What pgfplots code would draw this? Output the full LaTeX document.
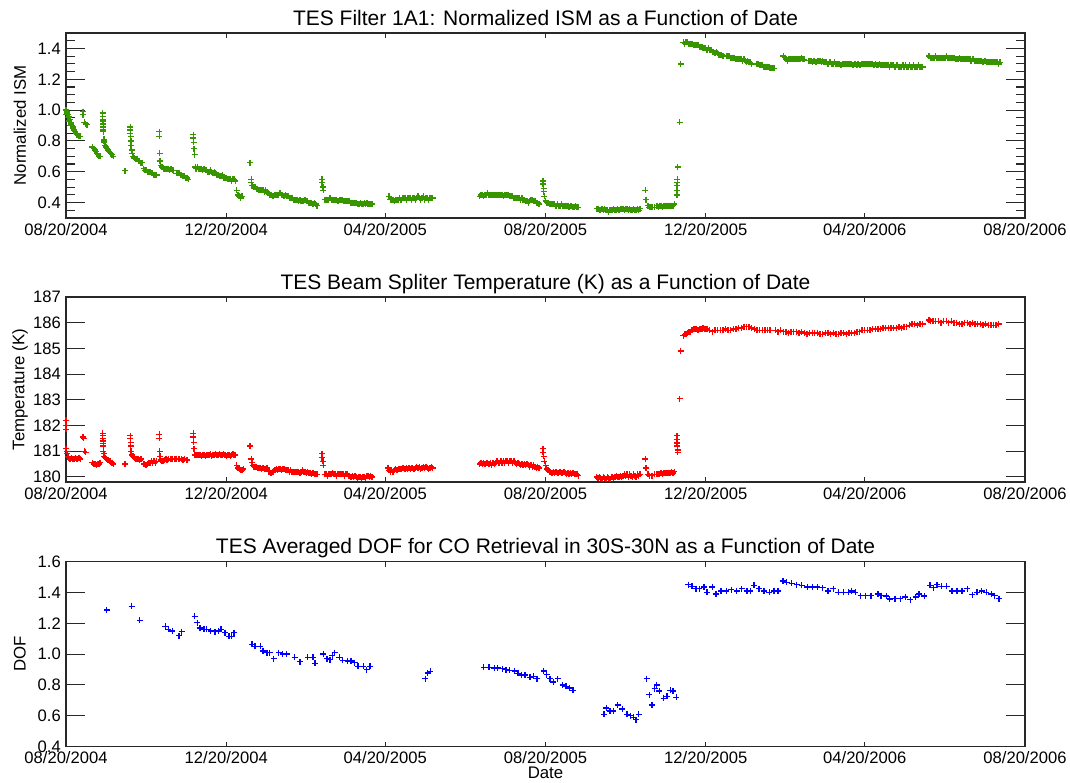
\documentclass[border=0pt]{standalone}
\usepackage{pgfplots}
\pgfplotsset{compat=1.18}
\usepackage{fontspec}
\setmainfont{Liberation Sans}
\definecolor{ismgreen}{RGB}{55,150,0}
\definecolor{tred}{RGB}{255,0,0}
\definecolor{dblue}{RGB}{0,0,255}
\definecolor{axisgray}{RGB}{40,40,40}
\pgfplotsset{
 tesaxis/.style={
  scale only axis, width=959pt, height=185pt,
  xmin=0, xmax=730,
  xtick={0,122,243,365,487,608,730},
  xticklabels={08/20/2004,12/20/2004,04/20/2005,08/20/2005,12/20/2005,04/20/2006,08/20/2006},
  tick align=inside,
  xtick style={/pgfplots/major tick length=5pt},
  ytick style={/pgfplots/major tick length=19pt,/pgfplots/minor tick length=9pt},
  axis line style={line width=1.2pt, color=axisgray},
  every tick/.style={line width=1.1pt, color=axisgray},
  tick label style={font=\fontsize{16.6}{18}\selectfont},
  xticklabel style={anchor=north, inner sep=0pt, yshift=-5pt},
  yticklabel style={anchor=east, inner sep=0pt, xshift=-5pt},
  title style={font=\fontsize{21}{24}\selectfont, at={(0.5,1)}, anchor=base, yshift=2pt},
  ylabel style={font=\fontsize{16.8}{18}\selectfont, at={(axis description cs:-0.048,0.5)}, anchor=center},
  /pgf/number format/assume math mode=true,
  clip=false,
 },
 pts/.style={only marks, mark=+, mark size=3pt, line width=1.35pt, color=#1},
}
\begin{document}
\begin{tikzpicture}
\path[use as bounding box] (0pt,0pt) rectangle (1070pt,-782pt);
% ---------------- Panel 1 ----------------
\begin{axis}[tesaxis, at={(66pt,-218pt)}, anchor=south west,
  title={TES Filter 1A1: Normalized ISM as a Function of Date},
  ylabel={Normalized ISM},
  ymin=0.3, ymax=1.5, ytick={0.4,0.6,0.8,1.0,1.2,1.4},
  minor ytick={0.3,0.35,0.45,0.5,0.55,0.65,0.7,0.75,0.85,0.9,0.95,1.05,1.1,1.15,1.25,1.3,1.35,1.45,1.5},
  yticklabel style={/pgf/number format/.cd, fixed, fixed zerofill, precision=1}]
\addplot[pts=ismgreen] coordinates {
(0,1.00)(0.5,0.99)(1,0.98)(1.5,0.97)(2,0.96)(2.5,0.95)(3,0.94)(3.5,0.92)(4,0.91)(4.5,0.90)(5,0.89)(5.5,0.88)(6,0.87)(7,0.86)(7.5,0.85)(8,0.84)(9,0.84)(10,0.83)(11,0.83)(0.3,0.97)(1.2,0.95)(2.2,0.93)(3.2,0.90)
(13,0.99)(13,0.97)(14,0.92)(15,0.91)(16,0.905)
(20,0.76)(21,0.75)(22,0.74)(23,0.73)(23.5,0.72)(24,0.71)(25,0.70)(26,0.70)
(28,0.98)(28,0.96)(28,0.94)(28,0.93)(28.3,0.91)(28.3,0.89)(28.5,0.87)(28.5,0.86)(29,0.81)(29,0.80)(29.3,0.79)(30,0.77)(30.5,0.76)(31,0.75)(32,0.74)(33,0.73)(34,0.72)(35,0.71)(36,0.70)
(45,0.607)
(49,0.89)(49,0.87)(49,0.85)(49.3,0.83)(49.5,0.80)(49.5,0.77)(50,0.74)(50.5,0.72)(51,0.70)(52,0.69)(53,0.68)(54,0.68)(55,0.67)(56,0.67)(57,0.66)(58,0.66)
(59,0.62)(60,0.61)(61,0.61)(62,0.60)(63,0.60)(64,0.60)(65,0.59)(66,0.59)(67,0.58)(68,0.58)(69,0.58)
(71,0.86)(71,0.83)(71.3,0.72)(71.5,0.67)
(72,0.64)(73,0.63)(74,0.62)(75,0.62)(76,0.62)(77,0.62)(78,0.62)(79,0.61)(80,0.62)(81,0.61)(82,0.61)
(84,0.59)(85,0.59)(86,0.59)(87,0.58)(88,0.58)(89,0.57)(90,0.57)(91,0.56)(92,0.56)(93,0.55)
(97,0.84)(97,0.82)(97.3,0.79)(97.5,0.75)(98,0.71)(98.5,0.63)
(99,0.62)(100,0.63)(101,0.62)(102,0.62)(103,0.62)(104,0.61)(105,0.62)(106,0.61)(107,0.61)(108,0.60)(109,0.60)(110,0.61)(111,0.60)(112,0.59)(113,0.60)(114,0.59)(115,0.58)(116,0.58)(117,0.57)(118,0.57)(119,0.58)(120,0.56)(121,0.56)(122,0.56)(123,0.55)(124,0.55)(125,0.55)(126,0.54)(127,0.55)(128,0.55)(129,0.54)
(130,0.48)(131,0.45)(132,0.44)(133,0.43)(134,0.44)
(140,0.66)
(141,0.55)(141,0.53)(141.5,0.51)
(142,0.51)(143,0.50)(144,0.50)(145,0.49)(146,0.49)(147,0.48)(148,0.48)(149,0.48)(150,0.48)(151,0.47)(152,0.48)(153,0.47)(154,0.46)(155,0.45)(156,0.45)(157,0.44)(158,0.44)(159,0.45)(160,0.45)(161,0.45)(162,0.45)(163,0.46)(164,0.45)(165,0.45)(166,0.44)(167,0.45)(168,0.44)(169,0.44)(170,0.43)(171,0.43)(172,0.43)(173,0.42)(174,0.42)(175,0.42)(176,0.42)(177,0.41)(178,0.42)(179,0.41)(180,0.41)(181,0.41)(182,0.42)(183,0.41)(184,0.41)(185,0.40)(186,0.40)(187,0.40)(188,0.39)(189,0.40)(190,0.39)(191,0.38)
(195,0.55)(195,0.53)(195.5,0.50)(196,0.48)
(197,0.42)(198,0.42)(199,0.42)(200,0.42)(201,0.43)(202,0.42)(203,0.42)(204,0.42)(205,0.42)(206,0.42)(207,0.41)(208,0.42)(209,0.42)(210,0.42)(211,0.41)(212,0.41)(213,0.41)(214,0.41)(215,0.41)(216,0.41)(217,0.40)(218,0.40)(219,0.40)(220,0.40)(221,0.40)(222,0.39)(223,0.39)(224,0.40)(225,0.39)(226,0.39)(227,0.40)(228,0.39)(229,0.40)(230,0.39)(231,0.39)(232,0.39)(233,0.39)
(246,0.44)(247,0.42)(248,0.42)(249,0.42)(250,0.41)(251,0.42)(252,0.42)(253,0.42)(254,0.43)(255,0.42)(256,0.43)(257,0.43)(258,0.43)(259,0.42)(260,0.43)(261,0.43)(262,0.43)(263,0.42)(264,0.43)(265,0.43)(266,0.42)(267,0.43)(268,0.44)(269,0.43)(270,0.42)(271,0.43)(272,0.44)(273,0.42)(274,0.43)(275,0.43)(276,0.42)(277,0.43)(278,0.43)(279,0.43)
(315,0.44)(316,0.45)(317,0.45)(318,0.44)(319,0.45)(320,0.45)(321,0.46)(322,0.45)(323,0.45)(324,0.45)(325,0.45)(326,0.45)(327,0.45)(328,0.45)(329,0.45)(330,0.45)(331,0.45)(332,0.45)(333,0.44)(334,0.45)(335,0.45)(336,0.45)(337,0.45)(338,0.44)(339,0.44)(340,0.44)(341,0.43)(342,0.43)(343,0.43)(344,0.43)(345,0.43)(346,0.42)(347,0.43)(348,0.42)(349,0.42)(350,0.41)(351,0.41)(352,0.40)(353,0.41)(354,0.42)(355,0.42)(356,0.41)(357,0.41)(358,0.40)(359,0.40)(360,0.39)
(363,0.54)(363,0.52)(363.5,0.49)(363.5,0.47)(364,0.44)
(365,0.41)(366,0.40)(367,0.40)(368,0.39)(369,0.39)(370,0.39)(371,0.39)(372,0.39)(373,0.38)(374,0.39)(375,0.38)(376,0.38)(377,0.39)(378,0.38)(379,0.38)(380,0.38)(381,0.38)(382,0.38)(383,0.37)(384,0.38)(385,0.38)(386,0.37)(387,0.37)(388,0.38)(389,0.37)(390,0.37)
(404,0.36)(405,0.36)(406,0.35)(407,0.35)(408,0.36)(409,0.35)(410,0.36)(411,0.35)(412,0.35)(413,0.34)(414,0.35)(415,0.35)(416,0.35)(417,0.36)(418,0.35)(419,0.35)(420,0.36)(421,0.35)(422,0.36)(423,0.36)(424,0.36)(425,0.35)(426,0.36)(427,0.36)(428,0.35)(429,0.36)(430,0.35)(431,0.35)(432,0.36)(433,0.35)(434,0.35)(435,0.36)(436,0.35)(437,0.36)
(441,0.48)(441.5,0.42)
(443,0.38)(444,0.37)(445,0.37)(446,0.37)(448,0.37)(450,0.38)(451,0.37)(452,0.38)(453,0.38)(454,0.37)(455,0.38)(456,0.38)(457,0.38)(458,0.38)(459,0.38)(460,0.38)(461,0.38)(462,0.38)(463,0.39)
(465,0.45)(465,0.48)(465,0.51)(465.3,0.53)(465.3,0.55)(465.5,0.63)(467,0.92)(468,1.30)
(470,1.44)(471,1.43)(472,1.44)(473,1.44)(474,1.43)(475,1.43)(476,1.43)(477,1.43)(478,1.42)(479,1.42)(480,1.42)(481,1.42)(482,1.41)(483,1.41)(484,1.41)(485,1.40)(486,1.40)(487,1.40)(488,1.39)(489,1.40)(490,1.39)(491,1.39)(492,1.38)(493,1.38)(494,1.37)(495,1.38)(496,1.37)(497,1.36)(498,1.36)(499,1.36)(500,1.35)
(503,1.35)(504,1.35)(505,1.35)(506,1.34)(507,1.34)(508,1.34)(509,1.34)(510,1.33)(511,1.33)(512,1.33)(513,1.33)(514,1.33)(515,1.32)(516,1.33)(517,1.32)(518,1.31)(519,1.32)(520,1.31)(521,1.31)(522,1.30)
(526,1.30)(527,1.30)(528,1.29)(529,1.29)(530,1.29)(531,1.28)(532,1.28)(533,1.28)(534,1.28)(535,1.28)(536,1.27)(537,1.27)(538,1.27)(539,1.27)
(546,1.35)(547,1.34)(548,1.33)(549,1.32)(550,1.33)(551,1.33)(552,1.33)(553,1.33)(554,1.33)(555,1.33)(556,1.33)(557,1.33)(558,1.33)(559,1.33)(560,1.34)(561,1.33)(562,1.33)
(565,1.32)(566,1.32)(567,1.32)(568,1.31)(569,1.32)(570,1.32)(571,1.31)(572,1.32)(573,1.32)(574,1.32)(575,1.31)(576,1.32)(577,1.31)(578,1.31)(579,1.31)(580,1.30)(581,1.31)(582,1.31)(583,1.30)(584,1.30)(585,1.31)(586,1.30)(587,1.30)(588,1.30)(589,1.30)(590,1.29)(591,1.30)(592,1.30)(593,1.30)(594,1.30)(595,1.30)(596,1.30)(597,1.30)(598,1.30)(599,1.29)(600,1.30)(601,1.30)(602,1.29)(603,1.30)(604,1.29)(605,1.29)(606,1.30)(607,1.30)(608,1.30)(609,1.30)(610,1.30)(611,1.30)(612,1.30)(613,1.30)(614,1.30)(615,1.29)(616,1.30)(617,1.29)(618,1.29)(619,1.30)(620,1.29)(621,1.29)(622,1.29)(623,1.29)(624,1.29)(625,1.29)(626,1.29)(627,1.28)(628,1.29)(629,1.29)(630,1.29)(631,1.28)(632,1.29)(633,1.29)(634,1.28)(635,1.28)(636,1.28)(637,1.29)(638,1.28)(639,1.29)(640,1.28)(641,1.28)(642,1.29)(643,1.28)(644,1.28)(645,1.29)(646,1.28)(647,1.28)(648,1.28)(649,1.29)(650,1.28)(651,1.28)(652,1.28)
(657,1.35)(658,1.34)(659,1.34)(660,1.34)(661,1.34)(662,1.35)(663,1.34)(664,1.34)(665,1.34)(666,1.34)(667,1.34)(668,1.34)(669,1.34)(670,1.35)(671,1.34)(672,1.34)(673,1.34)(674,1.34)(675,1.34)(676,1.34)(677,1.33)(678,1.33)(679,1.33)(680,1.34)(681,1.33)(682,1.33)(683,1.33)(684,1.33)(685,1.33)(686,1.33)(687,1.33)(688,1.33)(689,1.32)(690,1.33)(691,1.33)(692,1.32)(693,1.32)(694,1.32)(695,1.32)(696,1.32)(697,1.32)(698,1.31)(699,1.32)(700,1.32)(701,1.31)(702,1.31)(703,1.31)(704,1.31)(705,1.31)(706,1.31)(707,1.31)(708,1.31)(709,1.31)(710,1.30)(711,1.31)
};
\end{axis}
% ---------------- Panel 2 ----------------
\begin{axis}[tesaxis, at={(66pt,-482pt)}, anchor=south west,
  title={TES Beam Spliter Temperature (K) as a Function of Date},
  ylabel={Temperature (K)},
  ymin=179.8, ymax=187, ytick={180,181,182,183,184,185,186,187}]
\addplot[pts=tred] coordinates {
(0,182.2)(0,182.0)(0,181.85)(0,181.1)(0.5,181.0)(1,180.9)(1.5,180.8)(2,180.75)(3,180.7)(4,180.75)(5,180.7)(6,180.7)(7,180.75)(8,180.7)(9,180.7)(10,180.75)(11,180.7)
(13,181.55)(13.5,181.5)(14,181.0)(15,180.95)
(20,180.55)(21,180.5)(22,180.5)(23,180.45)(24,180.5)(25,180.5)(26,180.55)
(28,181.7)(28,181.6)(28,181.5)(28.3,181.4)(28.3,181.3)(28.5,181.2)(28.5,181.0)(29,180.9)(29,180.8)(30,180.75)(31,180.7)(32,180.65)(33,180.6)(34,180.6)(35,180.55)(36,180.5)
(45,180.5)
(49,181.6)(49,181.5)(49.3,181.35)(49.3,181.2)(49.5,181.0)(50,180.85)(51,180.8)(52,180.75)(53,180.7)(54,180.7)(55,180.7)(56,180.65)(57,180.7)
(59,180.5)(60,180.5)(61,180.45)(62,180.5)(63,180.55)(64,180.55)(65,180.6)(66,180.55)(67,180.6)(68,180.55)(69,180.6)
(71,181.65)(71,181.5)(71.3,181.0)(71.5,180.8)(72,180.65)(73,180.6)(74,180.6)(75,180.65)(76,180.7)(77,180.65)(78,180.7)(80,180.7)(81,180.7)(83,180.7)(84,180.7)(86,180.7)(88,180.7)(89,180.65)(90,180.7)(92,180.65)
(97,181.7)(97,181.55)(97.3,181.35)(97.5,181.1)(98,180.85)(99,180.85)(100,180.85)(101,180.85)(102,180.85)(103,180.8)(104,180.85)(105,180.85)(106,180.8)(107,180.85)(108,180.85)(109,180.85)(110,180.9)(111,180.8)(112,180.85)(113,180.85)(114,180.9)(115,180.85)(116,180.85)(117,180.9)(118,180.85)(119,180.85)(120,180.9)(121,180.85)(122,180.8)(123,180.85)(124,180.85)(125,180.8)(126,180.85)(127,180.9)(128,180.85)(129,180.85)
(130,180.45)(131,180.35)(132,180.3)(133,180.25)(134,180.25)(135,180.3)
(140,181.2)
(141,180.7)(141.5,180.55)(142,180.45)(143,180.4)(144,180.4)(145,180.4)(146,180.35)(147,180.35)(148,180.35)(149,180.3)(150,180.35)(151,180.3)(152,180.3)(153,180.35)(154,180.2)(155,180.2)(156,180.15)(157,180.2)(158,180.2)(159,180.25)(160,180.3)(161,180.25)(162,180.3)(163,180.3)(164,180.25)(165,180.3)(166,180.3)(167,180.25)(168,180.25)(169,180.25)(170,180.2)(171,180.25)(172,180.2)(173,180.2)(174,180.2)(175,180.2)(176,180.2)(177,180.2)(178,180.15)(179,180.2)(180,180.25)(181,180.2)(182,180.2)(183,180.15)(184,180.2)(185,180.15)(186,180.15)(187,180.1)(188,180.15)(189,180.1)(190,180.1)(191,180.1)
(195,180.9)(195,180.75)(195.5,180.6)(196,180.45)
(197,180.1)(198,180.1)(199,180.05)(200,180.1)(201,180.1)(202,180.1)(203,180.15)(204,180.1)(205,180.1)(206,180.05)(207,180.1)(208,180.1)(209,180.1)(210,180.1)(211,180.1)(212,180.05)(213,180.1)(214,180.1)(215,180.05)(216,180.05)(217,180.0)(218,180.05)(219,180.0)(220,180.05)(221,180.0)(222,179.95)(223,180.0)(224,180.0)(225,179.95)(226,180.0)(227,180.0)(228,179.95)(229,180.05)(230,180.05)(231,180.0)(232,180.05)(233,180.0)
(245,180.35)(246,180.25)(247,180.2)(248,180.25)(249,180.2)(250,180.25)(251,180.3)(252,180.25)(253,180.3)(254,180.3)(255,180.3)(256,180.35)(257,180.35)(258,180.3)(259,180.35)(260,180.3)(261,180.35)(262,180.3)(263,180.35)(264,180.35)(265,180.3)(266,180.35)(267,180.4)(268,180.35)(269,180.4)(270,180.3)(271,180.35)(272,180.4)(273,180.35)(274,180.4)(275,180.35)(276,180.3)(277,180.35)(278,180.4)(279,180.35)
(315,180.5)(316,180.55)(317,180.5)(318,180.55)(319,180.5)(320,180.55)(321,180.55)(322,180.5)(323,180.55)(324,180.45)(325,180.55)(326,180.5)(327,180.55)(328,180.6)(329,180.55)(330,180.55)(331,180.6)(332,180.55)(333,180.6)(334,180.55)(335,180.6)(336,180.6)(337,180.55)(338,180.6)(339,180.6)(340,180.55)(341,180.6)(342,180.55)(343,180.5)(344,180.55)(345,180.5)(346,180.45)(347,180.5)(348,180.45)(349,180.5)(350,180.45)(351,180.5)(352,180.45)(353,180.4)(354,180.45)(355,180.4)(356,180.45)(357,180.4)(358,180.35)(359,180.4)(360,180.35)
(363,181.1)(363,180.95)(363.5,180.8)(364,180.6)(365,180.45)
(366,180.3)(367,180.25)(368,180.2)(369,180.2)(370,180.15)(371,180.2)(372,180.15)(373,180.2)(374,180.15)(375,180.15)(376,180.2)(377,180.15)(378,180.15)(379,180.2)(380,180.15)(381,180.1)(382,180.15)(383,180.1)(384,180.15)(385,180.1)(386,180.15)(387,180.1)(388,180.1)(389,180.1)(390,180.05)
(404,180.0)(405,179.95)(406,180.0)(407,179.95)(408,179.9)(409,180.0)(410,179.95)(411,179.9)(412,180.0)(413,179.95)(414,179.9)(415,180.0)(416,180.0)(417,179.95)(418,180.0)(419,180.05)(420,180.0)(421,180.0)(422,180.05)(423,180.0)(424,180.05)(425,180.1)(426,180.05)(427,180.1)(428,180.0)(429,180.1)(430,180.05)(431,180.0)(432,180.1)(433,180.05)(434,180.0)(435,180.1)(436,180.05)(437,180.1)
(441,180.7)(441.5,180.35)
(443,180.1)(444,180.05)(446,180.05)(448,180.1)(450,180.1)(451,180.1)(452,180.1)(453,180.15)(454,180.1)(455,180.15)(456,180.15)(457,180.15)(458,180.15)(459,180.15)(460,180.15)(461,180.2)(462,180.15)(463,180.2)
(465,181.6)(465,181.45)(465,181.35)(465.3,181.3)(465.3,181.2)(465.5,181.05)(465.5,180.95)(467,183.05)(468,184.9)
(470,185.5)(471,185.55)(472,185.55)(473,185.6)(474,185.65)(475,185.65)(476,185.7)(477,185.7)(478,185.75)(479,185.75)(480,185.75)(481,185.7)(482,185.75)(483,185.75)(484,185.75)(485,185.8)(486,185.75)(487,185.75)(488,185.75)(490,185.7)(492,185.65)(494,185.7)(496,185.7)(498,185.7)(500,185.7)(502,185.75)(504,185.7)(506,185.7)(508,185.75)(510,185.75)(512,185.8)(514,185.8)(516,185.85)(518,185.85)(520,185.85)(522,185.8)(524,185.75)
(526,185.7)(528,185.7)(530,185.7)(532,185.7)(534,185.7)(536,185.7)(540,185.7)(542,185.65)(544,185.7)(546,185.65)(548,185.65)(550,185.6)(552,185.65)(554,185.65)(556,185.65)(558,185.6)(560,185.65)(562,185.6)(564,185.55)(566,185.6)(568,185.6)(570,185.6)(572,185.6)(574,185.55)(576,185.55)(578,185.6)(580,185.6)(582,185.55)(584,185.6)(586,185.55)(588,185.55)(590,185.6)(592,185.6)(594,185.55)(596,185.6)(598,185.6)(600,185.6)(602,185.65)(604,185.65)(606,185.7)(608,185.7)(610,185.7)(612,185.7)(614,185.75)(616,185.75)(618,185.75)(620,185.75)(622,185.8)(624,185.8)(626,185.8)(628,185.8)(630,185.8)(632,185.8)(634,185.85)(636,185.8)(638,185.85)(640,185.85)(642,185.9)(644,185.95)(646,185.95)(648,185.9)(650,185.95)(652,185.95)
(657,186.1)(658,186.05)(660,186.05)(662,186.05)(664,186.05)(666,186.0)(668,186.05)(670,186.05)(672,186.0)(674,186.05)(676,186.0)(678,186.0)(680,185.95)(682,185.95)(684,186.0)(686,186.0)(688,185.95)(690,186.0)(692,185.95)(694,185.95)(696,185.95)(698,185.9)(700,185.95)(702,185.9)(704,185.9)(706,185.9)(708,185.9)(710,185.95)
};
\end{axis}
% ---------------- Panel 3 ----------------
\begin{axis}[tesaxis, at={(66pt,-746.6pt)}, anchor=south west,
  title={TES Averaged DOF for CO Retrieval in 30S-30N as a Function of Date},
  ylabel={DOF}, xlabel={Date},
  xlabel style={font=\fontsize{16.8}{18}\selectfont, at={(axis description cs:0.5,0)}, anchor=center, yshift=-26pt},
  ymin=0.4, ymax=1.6, ytick={0.4,0.6,0.8,1.0,1.2,1.4,1.6},
  yticklabel style={/pgf/number format/.cd, fixed, fixed zerofill, precision=1}]
\addplot[pts=dblue] coordinates {
(31,1.286)(50,1.31)(56,1.22)
(75.6,1.18)(78,1.16)(81,1.15)(86,1.12)(88,1.145)
(98,1.246)(100,1.205)(102,1.17)(105,1.16)(107,1.16)(110,1.15)(113.5,1.145)(116,1.15)(118,1.16)(121,1.14)(124,1.115)(126,1.115)(128,1.14)
(141.6,1.063)(144,1.05)(148,1.05)(150,1.02)(153,1.01)(155,1.01)(158,0.97)(162,1.01)(165,1.0)(168,1.0)
(174,0.98)(178,0.95)(184,0.98)(188,0.98)(189.5,0.94)
(196,1.0)(198.8,0.97)(201,0.965)(202.7,0.99)(204.5,1.01)
(208,0.98)(210.5,0.96)(214.5,0.955)(217,0.955)(219.7,0.945)(222.3,0.92)(226.3,0.92)(228.9,0.90)(231.5,0.92)
(273.5,0.84)(275.3,0.877)(277.4,0.888)
(318,0.915)(322,0.915)(326,0.91)(328.5,0.91)(332.5,0.905)(335,0.90)(337.7,0.895)(341.6,0.89)(344,0.875)(346.8,0.865)(349.4,0.865)(353.2,0.85)(355.8,0.855)(358.4,0.84)
(363.7,0.89)(365.8,0.866)(368.4,0.84)(371,0.82)(374.2,0.84)(378.1,0.80)(380.7,0.79)(383.3,0.78)(386,0.765)
(409.6,0.61)(411.4,0.65)(414,0.63)(416.6,0.63)(420,0.67)(423.4,0.645)(427.1,0.61)(429.7,0.60)(431.8,0.59)(433.9,0.575)(436,0.61)
(442,0.84)(444,0.736)(446,0.67)(448,0.776)(449.6,0.80)(451.7,0.76)(455,0.714)(457.5,0.727)(460,0.765)(462,0.76)(464.6,0.72)
(473.8,1.45)(476.4,1.44)(479.5,1.425)(482,1.425)(485.6,1.436)(488,1.40)(492,1.436)(494.7,1.39)(498.7,1.41)(502.6,1.41)(506.5,1.418)(510.5,1.41)(514.4,1.425)(518.3,1.41)(521,1.41)(523.6,1.447)(527.5,1.425)(531.4,1.41)(535.4,1.40)(539,1.41)(542,1.41)
(545.8,1.474)(548.5,1.465)(552.4,1.459)(556.3,1.45)(560,1.447)(564.2,1.436)(568,1.436)(572,1.436)(576,1.43)(580,1.41)(584,1.425)(587.8,1.40)(591.7,1.40)(595.6,1.40)(598,1.41)(600.9,1.40)(604.8,1.38)(608.7,1.38)(612.7,1.38)(618,1.39)(620.5,1.38)(624.5,1.376)(627,1.358)(631,1.36)(635,1.36)(639,1.37)(642.8,1.353)(646.8,1.37)(649.4,1.39)(653.3,1.376)
(657.8,1.447)(660.4,1.43)(663,1.45)(666.4,1.44)(670.3,1.44)(674.3,1.41)(678.2,1.41)(682.1,1.41)(686,1.425)(690,1.385)(693.4,1.40)(697,1.41)(700.5,1.40)(704.4,1.39)(707,1.38)(710.2,1.36)
};
\end{axis}
\end{tikzpicture}
\end{document}
